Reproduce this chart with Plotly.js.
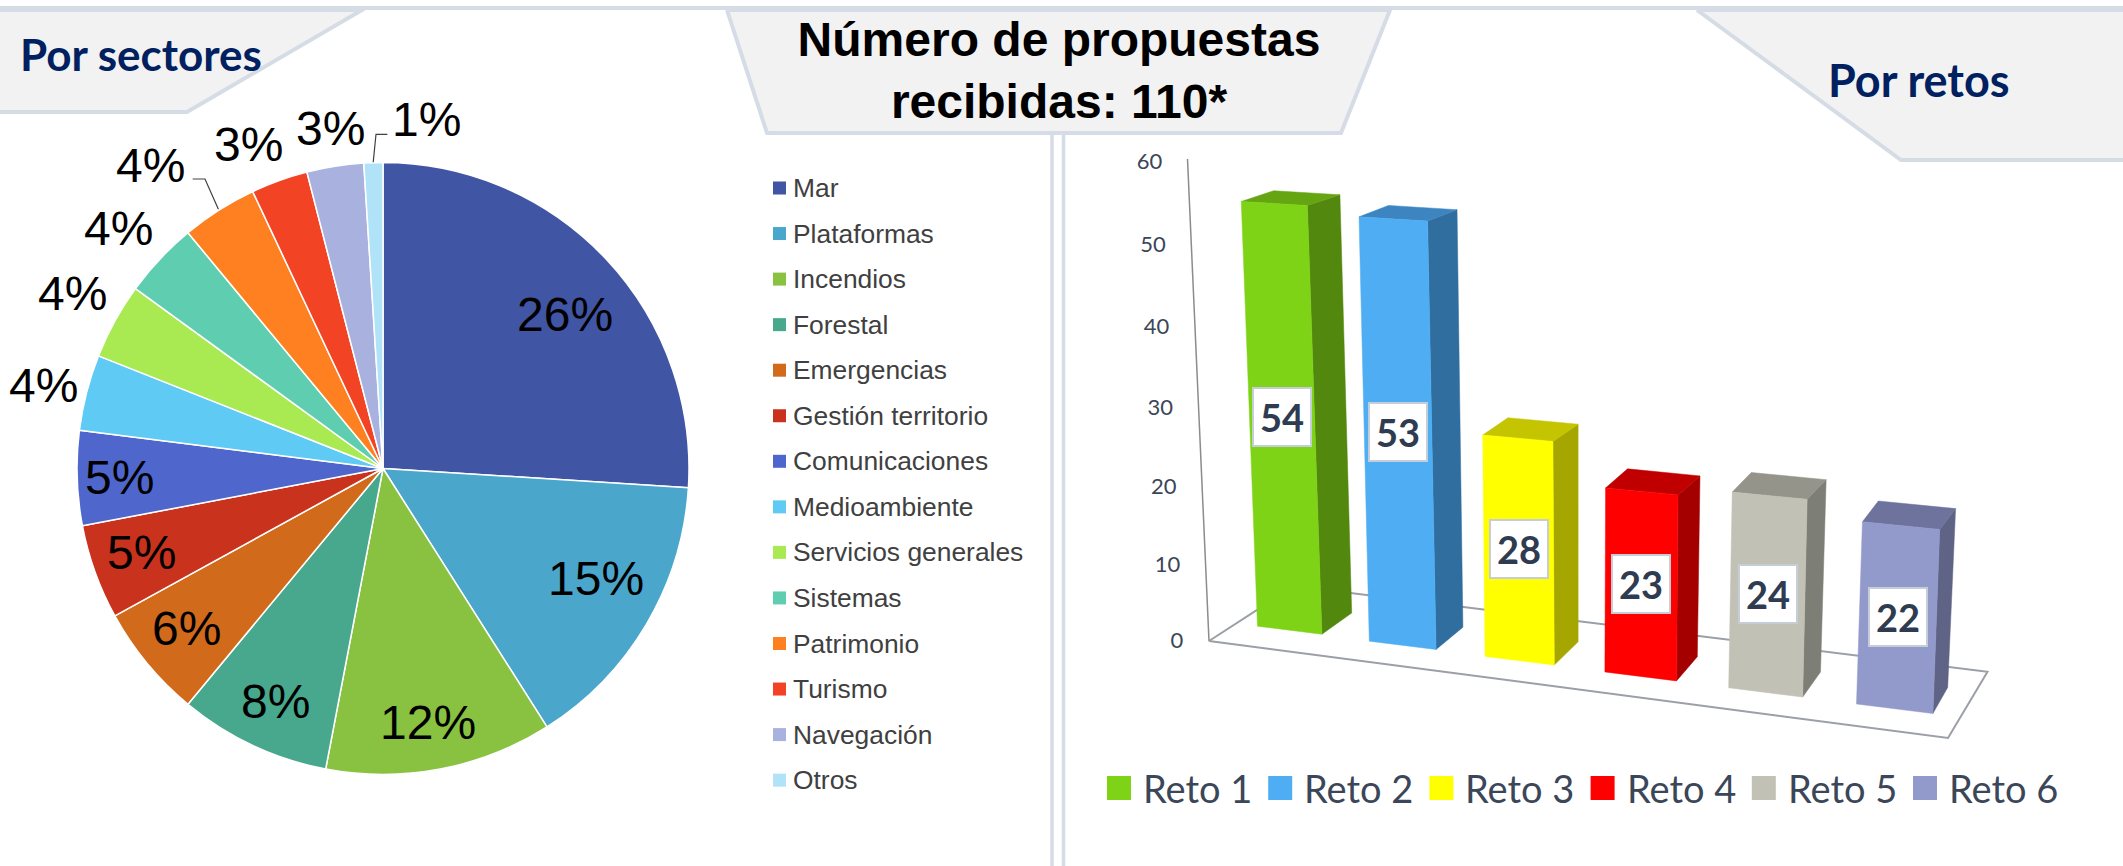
<!DOCTYPE html>
<html><head><meta charset="utf-8">
<script src="https://cdn.plot.ly/plotly-3.0.1.min.js"></script>
<style>html,body{margin:0;padding:0;background:#fff}#chart{width:2123px;height:866px}</style>
</head><body><div id="chart"></div>
<script>
// ---- data ----
const sectorNames = ['Mar','Plataformas','Incendios','Forestal','Emergencias','Gestión territorio','Comunicaciones','Medioambiente','Servicios generales','Sistemas','Patrimonio','Turismo','Navegación','Otros'];
const sectorShares = [26,15,12,8,6,5,5,4,4,4,4,3,3,1];
const retoNames = ['Reto 1','Reto 2','Reto 3','Reto 4','Reto 5','Reto 6'];
const retoValues = [54,53,28,23,24,22];
const wallTicks = [0,10,20,30,40,50,60];
const titleText = 'Número de propuestas<br>recibidas: 110*';

// ---- styles ----
const sectorColors = ['#4055a3','#4aa7cb','#88c240','#48a88d','#d26a1c','#c9321c','#4f66cc','#5fcaf4','#a9ea52','#5fceb0','#ff8021','#f24424','#a9b2df','#b0e2f8'];
const retoFront = ['#7fd317','#4faef3','#ffff00','#ff0000','#c1c1b5','#9299cb'];
const retoSide  = ['#53880f','#306e9f','#a6a600','#a50000','#7d7e76','#5f6487'];
const retoTop   = ['#64a511','#3d85c0','#c4c400','#c00000','#94948b','#6e739d'];
const sectorLabelXY = [[565,314],[596,578],[428,722],[275,701],[186,628],[141,552],[119,477],[43,385],[72,293],[118,228],[150,165],[248,144],[330,128],[426,119]];
const ink = '#2f3b50', navy = '#002060', edge = '#d6dce5', frameGrey = '#9b9fa6';

// ---- projection of the 3-D bar chart (bar index, across, depth, value) to canvas units ----
const xb = i => 1257.5 + 109.8*i + 2*i*i;
const yb = i => 626.2 + 14.8*i + 0.15*i*i;
const kv = i => 7.35 + 0.14*i;
const barW = i => 64.4 + 2.4*i;
const depthX = i => 29.8 - 3*i;
const depthY = i => 21.3 + 0.95*i;
function project(i, f, g, v) {
  const lean = -0.3 + 0.000952*(xb(i) - 1258);
  const x0 = xb(i) + lean*v, y0 = yb(i) - kv(i)*v*(1 + 0.0013*v);
  const flat = 1 - 0.0092*v;
  return [x0 + f*barW(i)*(1 + 0.0005*v) + g*(depthX(i) + 0.05*v),
          y0 + f*0.125*barW(i)*flat - g*depthY(i)*flat];
}
function face(name, pts, color) {
  const c = pts.concat([pts[0]]);
  return {type:'scatter', mode:'lines', x:c.map(p=>p[0]), y:c.map(p=>p[1]), fill:'toself', fillcolor:color,
          line:{color:color,width:0.5}, name:name, hoverinfo:'name', showlegend:false};
}

const traces = [];
// pie
const R = 306, cx = 383, cy = 468.5;
traces.push({type:'pie', labels:sectorNames, values:sectorShares, sort:false, direction:'clockwise', rotation:0,
  marker:{colors:sectorColors, line:{color:'#ffffff',width:1.5}}, textinfo:'none', showlegend:false,
  domain:{x:[(cx-R)/2123,(cx+R)/2123], y:[1-(cy+R)/866,1-(cy-R)/866]}});

// wall and floor frame
const frameLine = (xs,ys,w,col)=>({type:'scatter',mode:'lines',x:xs,y:ys,line:{color:col,width:w},hoverinfo:'skip',showlegend:false});
traces.push(frameLine([1187.5,1209],[159,641],1.5,'#8c8c8c'));
traces.push(frameLine([1294,1987.5,1948,1209,1294],[586,671.7,738,641,586],2,frameGrey));

// bars
retoValues.forEach((v,i)=>{
  traces.push(face(retoNames[i],[project(i,1,0,0),project(i,1,1,0),project(i,1,1,v),project(i,1,0,v)],retoSide[i]));
  traces.push(face(retoNames[i],[project(i,0,0,v),project(i,1,0,v),project(i,1,1,v),project(i,0,1,v)],retoTop[i]));
  traces.push(face(retoNames[i],[project(i,0,0,0),project(i,1,0,0),project(i,1,0,v),project(i,0,0,v)],retoFront[i]));
});
// wall tick labels
traces.push({type:'scatter',mode:'text',
  x:wallTicks.map(t=>1171 - 0.36*t + (t===0?6:0)),
  y:wallTicks.map(t=>642.5 - 7.57*t*(1 + 0.0009*t)),
  text:wallTicks.map(String), textposition:'middle center',
  textfont:{family:'Lato',size:22,color:'#3b4658'}, hoverinfo:'skip', showlegend:false});

// ---- shapes ----
const poly = (pts,fill,w,col)=>({type:'path',xref:'x',yref:'y',layer:'below',
  path:'M'+pts.map(p=>p.join(',')).join('L'),fillcolor:fill,line:{color:col||edge,width:w===undefined?4:w}});
const seg = (pts,col,w)=>({type:'path',xref:'x',yref:'y',layer:'above',path:'M'+pts.map(p=>p.join(',')).join('L'),line:{color:col,width:w}});
const shapes = [
  seg([[0,8],[2123,8]],edge,4),
  poly([[-5,10],[362,10],[187,112],[-5,112]],'#f2f2f2'),
  poly([[727,10],[1390,10],[1341,133],[767,133],[727,10]],'#f2f2f2'),
  poly([[1697,10],[2130,10],[2130,160],[1901,160],[1697,10]],'#f2f2f2'),
  seg([[1052,133],[1052,866]],edge,3.5),
  seg([[1063.5,133],[1063.5,866]],edge,3.5),
  seg([[192.7,179],[205,179],[218.4,209.3]],'#404040',1.2),
  seg([[387.4,134.3],[376,134.3],[373.2,162.3]],'#404040',1.2)
];

// ---- annotations ----
const note = (x,y,text,size,color,family,anchor,extra)=>Object.assign({xref:'x',yref:'y',x:x,y:y,text:text,showarrow:false,
  xanchor:anchor||'center',yanchor:'middle',font:{family:family,size:size,color:color}},extra||{});
const annotations = [
  note(18,54,'<b>Por sectores</b>',44,navy,'Lato','left'),
  note(1826,80,'<b>Por retos</b>',45,navy,'Lato','left')
];
sectorShares.forEach((s,i)=>annotations.push(note(sectorLabelXY[i][0],sectorLabelXY[i][1],s+'%',48,'#000000','Liberation Sans')));
// pie legend
sectorNames.forEach((n,i)=>{
  const y = 188 + 45.55*i;
  shapes.push({type:'rect',xref:'x',yref:'y',x0:773,x1:786,y0:y-6.5,y1:y+6.5,fillcolor:sectorColors[i],line:{width:0}});
  annotations.push(note(791,y,n,26.4,'#404040','Liberation Sans','left'));
});
// bar legend
retoNames.forEach((n,i)=>{
  const x = 1107 + 161.2*i;
  shapes.push({type:'rect',xref:'x',yref:'y',x0:x,x1:x+24,y0:776,y1:800,fillcolor:retoFront[i],line:{width:0}});
  annotations.push(note(x+34,788,n,38,'#3b4658','Lato','left'));
});
// bar value labels, centred on each front face
retoValues.forEach((v,i)=>{
  const c = [project(i,0,0,0),project(i,1,0,0),project(i,1,0,v),project(i,0,0,v)];
  annotations.push(note(c.reduce((a,p)=>a+p[0],0)/4,c.reduce((a,p)=>a+p[1],0)/4,'<b>'+v+'</b>',38,ink,'Lato','center',
    {bgcolor:'#ffffff',bordercolor:'#c5cdd9',borderwidth:2,width:54,height:54,borderpad:1,align:'center',valign:'middle'}));
});

const layout = {
  width:2123,height:866,margin:{l:0,r:0,t:0,b:0},paper_bgcolor:'#ffffff',plot_bgcolor:'rgba(0,0,0,0)',showlegend:false,
  title:{text:titleText,x:1059/2123,xanchor:'center',y:1-56/866,yanchor:'top',font:{family:'Liberation Sans',size:48,color:'#000000',weight:700}},
  xaxis:{range:[0,2123],visible:false,fixedrange:true},
  yaxis:{range:[866,0],visible:false,fixedrange:true},
  shapes:shapes,annotations:annotations
};
Plotly.newPlot('chart',traces,layout,{displayModeBar:false,staticPlot:true});
</script></body></html>
